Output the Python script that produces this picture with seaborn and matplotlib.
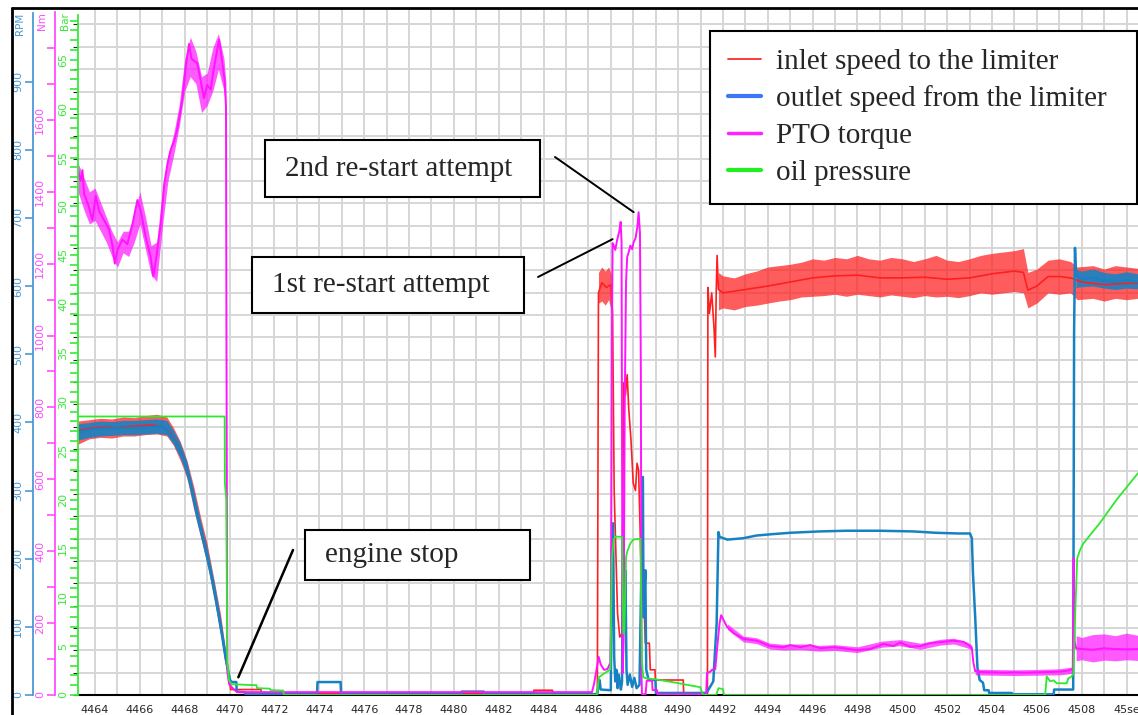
import numpy as np
import seaborn as sns
import matplotlib.pyplot as plt
from matplotlib.lines import Line2D
from matplotlib.patches import Rectangle
from matplotlib.ticker import MultipleLocator, FixedLocator, FuncFormatter

# --- data (time in s) ---
# inlet speed to the limiter [RPM]
red_t = [4463.24, 4463.6, 4464.0, 4464.5, 4465.0, 4465.5, 4466.0, 4466.5, 4467.0,
         4467.37, 4467.67, 4467.97, 4468.27, 4468.56, 4468.86, 4469.16, 4469.45, 4469.68, 4469.82, 4469.93, 4470.02,
         4470.05, 4471.4, 4471.42, 4483.55, 4483.57, 4484.4, 4484.42, 4486.4,
         4486.45, 4486.6, 4486.8, 4487.0, 4487.08, 4487.15, 4487.3, 4487.4, 4487.5, 4487.57,
         4487.65, 4487.73, 4487.8, 4487.9, 4488.0, 4488.1, 4488.17, 4488.24, 4488.3, 4488.39,
         4488.45, 4488.54, 4488.72, 4488.76, 4488.97, 4488.99, 4490.23, 4490.25, 4491.31,
         4491.33, 4491.4, 4491.5, 4491.6, 4491.66, 4491.7, 4491.74, 4491.8, 4492.0,
         4493, 4494, 4495, 4496, 4497, 4498, 4499, 4500, 4501, 4502, 4503, 4504, 4505,
         4505.4, 4505.6, 4506.0, 4506.5, 4507.0, 4507.5, 4508.0, 4509.0, 4510.0, 4510.51]
red_v = [388, 390, 392, 393, 392, 394, 395, 396, 394,
         384, 368, 346, 308, 263, 224, 180, 129, 85, 53, 34, 15,
         8, 8, 2, 2, 7, 7, 2, 2,
         590, 605, 598, 602, 560, 300, 120, 85, 90, 458,
         440, 470, 420, 374, 311, 300, 340, 330, 252, 129,
         170, 76, 76, 37, 37, 22, 22, 2, 2,
         598, 560, 590, 540, 496, 590, 645, 595, 590,
         595, 600, 606, 612, 615, 616, 612, 612, 613, 610, 612, 618, 622,
         620, 594, 600, 614, 614, 612, 606, 602, 604, 604]
# noise envelopes of the inlet speed
red_env1_t = [4463.24, 4463.75, 4464.25, 4464.75, 4465.25, 4465.75, 4466.25, 4466.75, 4467.2,
              4467.5, 4467.8, 4468.1, 4468.4, 4468.7, 4469.0, 4469.3, 4469.6, 4469.85]
red_env1_lo = [368, 376, 378, 377, 380, 380, 382, 383, 380, 366, 344, 318, 272, 232, 192, 144, 88, 38]
red_env1_hi = [402, 404, 406, 405, 408, 407, 410, 412, 408, 392, 372, 344, 306, 262, 222, 170, 118, 58]
red_env2_t = [4486.45, 4486.6, 4486.75, 4486.9, 4487.05]
red_env2_lo = [575, 578, 572, 580, 560]
red_env2_hi = [620, 628, 622, 628, 615]
red_env3_t = [4491.8, 4492.0, 4492.5, 4493.0, 4493.5, 4494.0, 4494.5, 4495.0, 4495.5, 4496.0,
              4496.5, 4497.0, 4497.5, 4498.0, 4498.5, 4499.0, 4499.5, 4500.0, 4500.5, 4501.0,
              4501.5, 4502.0, 4502.5, 4503.0, 4503.5, 4504.0, 4504.5, 4505.0, 4505.4, 4505.6,
              4506.0, 4506.5, 4507.0, 4507.5, 4507.8, 4508.5, 4509.0, 4509.5, 4510.0, 4510.51]
red_env3_lo = [565, 568, 565, 570, 572, 575, 578, 580, 584, 585, 586, 588, 585, 588, 586, 584, 587, 585, 583, 586,
               584, 585, 583, 586, 590, 588, 590, 592, 590, 568, 575, 590, 588, 590, 580, 582, 578, 582, 580, 582]
red_env3_hi = [620, 615, 612, 618, 622, 628, 630, 632, 635, 640, 638, 642, 640, 645, 640, 638, 642, 640, 636, 640,
               645, 638, 636, 640, 645, 648, 650, 652, 655, 620, 625, 638, 640, 636, 628, 630, 625, 630, 628, 626]

# outlet speed from the limiter [RPM]
blue_t = [4463.24, 4463.6, 4464.0, 4464.5, 4465.0, 4465.5, 4466.0, 4466.5, 4467.0,
          4467.37, 4467.67, 4467.97, 4468.27, 4468.56, 4468.86, 4469.16, 4469.45, 4469.68, 4469.82, 4469.93, 4470.02,
          4470.1, 4470.3, 4470.32, 4470.7, 4470.72, 4473.9, 4473.92, 4474.95, 4474.97,
          4480.33, 4480.35, 4481.34, 4481.36, 4486.4,
          4486.45, 4486.5, 4486.55, 4487.0, 4487.05, 4487.1, 4487.15, 4487.2, 4487.25, 4487.3,
          4487.35, 4487.45, 4487.5, 4487.55, 4487.6, 4487.65, 4487.7, 4487.75, 4487.85, 4487.95,
          4488.05, 4488.15, 4488.28, 4488.43, 4488.46, 4488.54, 4488.58, 4488.69, 4488.99, 4489.01,
          4491.27, 4491.57, 4491.72, 4491.8,
          4491.85, 4492.2, 4492.9, 4493.5, 4494.2, 4495.0, 4496.3, 4497.5, 4499.0, 4500.5,
          4501.5, 4502.5, 4503.02, 4503.1, 4503.15, 4503.25, 4503.35, 4503.45, 4503.6, 4503.65,
          4503.85, 4503.87, 4504.88, 4504.9, 4506.75, 4506.77, 4507.62, 4507.66, 4507.7, 4507.75,
          4508.0, 4508.5, 4509.0, 4509.5, 4510.0, 4510.51]
blue_v = [386, 388, 390, 391, 391, 392, 392, 393, 394,
          382, 366, 344, 306, 262, 222, 178, 128, 84, 55, 36, 22,
          19, 19, 5, 4, 1, 1, 19, 19, 1,
          1, 5, 5, 1, 1,
          15, 22, 8, 7, 208, 252, 56, 20, 37, 10,
          30, 8, 20, 252, 105, 183, 37, 15, 30, 12,
          25, 10, 15, 320, 114, 183, 37, 22, 22, 3,
          3, 20, 105, 239,
          232, 228, 230, 234, 236, 238, 240, 241, 241, 240,
          238, 237, 237, 230, 179, 114, 40, 22, 18, 7,
          7, 3, 3, 1, 1, 8, 8, 531, 656, 615,
          610, 612, 608, 606, 608, 606]
blue_env1_t = red_env1_t
blue_env1_lo = [374, 378, 380, 381, 382, 382, 383, 384, 382, 368, 348, 322, 278, 236, 196, 148, 92, 44]
blue_env1_hi = [398, 400, 402, 401, 403, 403, 404, 405, 403, 388, 370, 342, 300, 256, 216, 168, 112, 60]
blue_env2_t = [4507.75, 4508.0, 4508.5, 4509.0, 4509.5, 4510.0, 4510.51]
blue_env2_lo = [598, 599, 600, 597, 595, 597, 596]
blue_env2_hi = [624, 622, 625, 620, 618, 621, 618]

# PTO torque [Nm]
pink_t = [4463.24, 4463.36, 4463.44, 4463.51, 4463.73, 4463.88, 4464.03, 4464.18, 4464.4, 4464.62,
          4464.78, 4464.88, 4465.0, 4465.22, 4465.44, 4465.67, 4465.89, 4466.04, 4466.26, 4466.48,
          4466.6, 4466.75, 4466.85, 4466.93, 4467.08, 4467.23, 4467.37, 4467.52, 4467.67, 4467.9,
          4468.04, 4468.19, 4468.3, 4468.56, 4468.86, 4469.0, 4469.16, 4469.3, 4469.53, 4469.68,
          4469.78, 4469.84, 4469.86, 4469.9, 4469.98, 4470.2, 4470.35, 4486.16,
          4486.25, 4486.39, 4486.46, 4486.55, 4486.7, 4486.85, 4486.98, 4487.01, 4487.05, 4487.08,
          4487.13, 4487.2, 4487.28, 4487.38, 4487.44, 4487.48, 4487.5, 4487.53, 4487.57, 4487.62,
          4487.68, 4487.73, 4487.79, 4487.87, 4487.95, 4488.02, 4488.1, 4488.18, 4488.24, 4488.3,
          4488.34, 4488.37, 4488.39, 4488.55, 4488.6, 4488.84, 4488.86, 4489.06, 4489.08, 4491.25,
          4491.29, 4491.44, 4491.51, 4491.66, 4491.74, 4491.85, 4491.92,
          4492.18, 4492.48, 4492.92, 4493.52, 4494.11, 4494.71, 4495.0, 4495.45, 4495.89, 4496.34,
          4496.93, 4497.38, 4497.97, 4498.57, 4499.16, 4499.61, 4499.9, 4500.35, 4500.8, 4501.24,
          4501.69, 4502.28, 4502.73, 4502.95, 4503.1, 4503.17, 4503.25, 4503.5, 4504.0, 4504.5,
          4505.0, 4505.5, 4506.0, 4506.5, 4507.0, 4507.4, 4507.6, 4507.64, 4507.68, 4507.75,
          4508.0, 4508.5, 4509.0, 4509.5, 4510.0, 4510.51]
pink_v = [1460, 1430, 1460, 1394, 1357, 1321, 1388, 1346, 1321, 1296,
          1249, 1200, 1238, 1267, 1254, 1310, 1377, 1346, 1274, 1218,
          1164, 1224, 1274, 1310, 1419, 1478, 1516, 1539, 1575, 1660,
          1744, 1811, 1770, 1757, 1660, 1697, 1684, 1744, 1823, 1757,
          1708, 1636, 1000, 64, 30, 15, 8, 8,
          30, 80, 106, 85, 70, 72, 90, 300, 1000, 1257,
          1250, 1238, 1265, 1290, 1316, 1260, 700, 61, 150, 800,
          1150, 1218, 1230, 1250, 1240, 1260, 1270, 1300, 1343, 1285,
          900, 50, 2, 2, 40, 40, 14, 14, 2, 2,
          61, 65, 70, 72, 130, 200, 222,
          190, 172, 156, 151, 136, 133, 139, 133, 139, 130,
          133, 130, 125, 128, 142, 136, 146, 134, 136, 144,
          147, 151, 148, 139, 131, 90, 66, 64, 63, 62,
          63, 62, 63, 64, 65, 68, 72, 381, 150, 130,
          128, 126, 130, 128, 127, 128]
pink_env1_t = [4463.24, 4463.5, 4463.75, 4464.0, 4464.25, 4464.5, 4464.75, 4465.0, 4465.25, 4465.5,
               4465.75, 4466.0, 4466.25, 4466.5, 4466.75, 4467.0, 4467.25, 4467.5, 4467.75, 4468.0,
               4468.25, 4468.5, 4468.75, 4469.0, 4469.25, 4469.5, 4469.75, 4469.84]
pink_env1_lo = [1400, 1350, 1310, 1320, 1290, 1260, 1220, 1190, 1230, 1220,
                1260, 1310, 1240, 1170, 1150, 1300, 1430, 1500, 1580, 1680,
                1720, 1700, 1620, 1640, 1680, 1740, 1680, 1600]
pink_env1_hi = [1480, 1440, 1400, 1410, 1370, 1330, 1290, 1260, 1290, 1290,
                1340, 1400, 1330, 1250, 1260, 1400, 1500, 1560, 1640, 1770,
                1830, 1790, 1720, 1730, 1800, 1840, 1770, 1700]
pink_env2_t = [4492.2, 4492.9, 4493.5, 4494.1, 4494.7, 4495.5, 4496.3, 4497.0, 4498.0, 4499.1,
               4499.9, 4500.8, 4501.7, 4502.3, 4502.9, 4503.1]
pink_env2_lo = [182, 148, 143, 128, 125, 126, 122, 124, 118, 133, 137, 127, 139, 142, 131, 124]
pink_env2_hi = [198, 164, 159, 144, 141, 142, 138, 140, 134, 150, 154, 144, 155, 158, 147, 139]
pink_env3_t = [4503.25, 4504.0, 4505.0, 4506.0, 4507.0, 4507.6]
pink_env3_lo = [56, 55, 54, 55, 56, 60]
pink_env3_hi = [72, 71, 70, 71, 73, 78]
pink_env4_t = [4507.75, 4508.0, 4508.5, 4509.0, 4509.5, 4510.0, 4510.51]
pink_env4_lo = [95, 98, 92, 97, 95, 98, 96]
pink_env4_hi = [165, 160, 168, 170, 165, 172, 166]

# oil pressure [bar]
green_t = [4463.24, 4469.78, 4469.79, 4469.85, 4469.9, 4469.98, 4470.1, 4471.2, 4471.22, 4471.8,
           4471.82, 4472.4, 4472.42, 4486.39,
           4486.46, 4486.7, 4486.98, 4487.05, 4487.13, 4487.2, 4487.5, 4487.56, 4487.6, 4487.68,
           4487.72, 4487.87, 4488.0, 4488.32, 4488.39, 4488.45, 4488.61, 4489.0, 4489.8, 4490.5,
           4490.99, 4491.12, 4491.7, 4491.8, 4492.0, 4492.05, 4506.37,
           4506.44, 4506.59, 4506.74, 4506.89, 4507.33, 4507.4, 4507.55, 4507.63, 4507.72, 4507.8,
           4507.92, 4508.07, 4508.81, 4509.56, 4510.51]
green_v = [28.5, 28.5, 21.7, 20.0, 3.3, 1.5, 1.1, 1.0, 0.7, 0.65,
           0.5, 0.45, 0, 0,
           1.8, 2.2, 2.6, 14.1, 15.9, 16.2, 16.2, 6.3, 6.3, 14.1,
           14.6, 15.5, 15.9, 16.0, 3.3, 1.8, 1.7, 1.6, 1.3, 1.0,
           0.8, 0, 0, 0.7, 0.6, 0, 0,
           1.9, 1.4, 1.5, 1.2, 1.2, 1.7, 1.9, 2.2, 9.0, 14.0,
           14.8, 15.5, 17.6, 20.0, 22.7]

labels = ['inlet speed to the limiter', 'outlet speed from the limiter', 'PTO torque', 'oil pressure']

RED, BLUE, PINK, GREEN = '#ff1f1f', '#1682c4', '#ff14ff', '#2ee82e'

# --- figure geometry (pixels) ---
W, H = 1138, 715
L, R, B, T = 78, 1138, 695, 8


def fx(x):
    return x / W


def fy(y):
    return 1 - y / H


sns.set_style("white")
plt.rcParams['font.family'] = ['DejaVu Sans']

fig = plt.figure(figsize=(W / 100, H / 100), dpi=100)
fig.patch.set_facecolor('white')
ax = fig.add_axes([fx(L), fy(B), (R - L) / W, (B - T) / H])

# base axes only carries the grid and the time axis
ax.set_xlim(4463.24, 4510.51)
ax.set_ylim(0, (B - T) / 22.35)
ax.xaxis.set_major_locator(MultipleLocator(1))
ax.yaxis.set_major_locator(MultipleLocator(1))


def sec_label(v, pos):
    s = int(round(v))
    if s % 2:
        return ''
    return '45se' if s == 4510 else str(s)


ax.xaxis.set_major_formatter(FuncFormatter(sec_label))
ax.grid(True, color='#d6d6d6', lw=1.4)
ax.tick_params(axis='x', direction='out', length=5, width=1.2, color='black', labelsize=8, pad=2)
ax.tick_params(axis='y', left=False, labelleft=False)
for s in ['top', 'right', 'left']:
    ax.spines[s].set_visible(False)
ax.spines['bottom'].set_color('black')
ax.spines['bottom'].set_linewidth(1.5)

ax_rpm = ax.twinx()
ax_nm = ax.twinx()
ax_bar = ax.twinx()

scales = [
    (ax_rpm, 1008, -44.7, '#4a9ad4', range(0, 1000, 100), lambda v: str(int(v)), 1000),
    (ax_nm, 1911, -23.0, '#ff4dff', range(0, 1900, 100),
     lambda v: str(int(v)) if v % 200 == 0 and v <= 1600 else '', 1900),
    (ax_bar, 70.3, 0.0, '#3ae83a', range(0, 70, 1),
     lambda v: str(int(v)) if v % 5 == 0 and v <= 65 else '', 69.6),
]
for a, top, off, col, ticks, fmt, bound in scales:
    a.set_ylim(0, top)
    a.yaxis.set_ticks_position('left')
    a.yaxis.set_label_position('left')
    for s in ['top', 'right', 'bottom']:
        a.spines[s].set_visible(False)
    a.spines['left'].set_visible(True)
    a.spines['left'].set_position(('axes', off / (R - L)))
    a.spines['left'].set_color(col)
    a.spines['left'].set_linewidth(1.3)
    a.spines['left'].set_bounds(0, bound)
    a.yaxis.set_major_locator(FixedLocator(list(ticks)))
    a.yaxis.set_major_formatter(FuncFormatter(lambda v, p, f=fmt: f(v)))
    a.tick_params(axis='y', direction='out', length=6, width=1.2, color=col, labelcolor=col,
                  labelsize=8, labelrotation=90, pad=1.2)
    plt.setp(a.get_yticklabels(), va='center')
    a.grid(False)

# --- series ---
for t, lo, hi in [(red_env1_t, red_env1_lo, red_env1_hi), (red_env2_t, red_env2_lo, red_env2_hi),
                  (red_env3_t, red_env3_lo, red_env3_hi)]:
    ax_rpm.fill_between(t, lo, hi, color=RED, alpha=0.72, lw=0)
sns.lineplot(x=red_t, y=red_v, ax=ax_rpm, color=RED, lw=1.2, estimator=None, sort=False)

for t, lo, hi in [(blue_env1_t, blue_env1_lo, blue_env1_hi), (blue_env2_t, blue_env2_lo, blue_env2_hi)]:
    ax_rpm.fill_between(t, lo, hi, color=BLUE, alpha=0.9, lw=0)
sns.lineplot(x=blue_t, y=blue_v, ax=ax_rpm, color=BLUE, lw=1.8, estimator=None, sort=False)

for t, lo, hi in [(pink_env1_t, pink_env1_lo, pink_env1_hi), (pink_env2_t, pink_env2_lo, pink_env2_hi),
                  (pink_env3_t, pink_env3_lo, pink_env3_hi), (pink_env4_t, pink_env4_lo, pink_env4_hi)]:
    ax_nm.fill_between(t, lo, hi, color=PINK, alpha=0.7, lw=0)
sns.lineplot(x=pink_t, y=pink_v, ax=ax_nm, color=PINK, lw=1.4, estimator=None, sort=False)

sns.lineplot(x=green_t, y=green_v, ax=ax_bar, color=GREEN, lw=1.3, estimator=None, sort=False)

for a in (ax_rpm, ax_nm, ax_bar):
    a.set_xlabel('')
    a.set_ylabel('')
    a.set_xlim(4463.24, 4510.51)

# unit labels at the top of each scale
for x, y, txt, col in [(20, 24, 'RPM', '#4a9ad4'), (42, 21, 'Nm', '#ff4dff'), (65, 21, 'Bar', '#3ae83a')]:
    fig.text(fx(x), fy(y), txt, color=col, fontsize=7.5, rotation=90, ha='center', va='center')

# outer frame of the recorder window
fig.add_artist(Line2D([fx(12), fx(12)], [fy(8), 0], color='black', lw=2, transform=fig.transFigure))
fig.add_artist(Line2D([fx(12), 1], [fy(8), fy(8)], color='black', lw=2, transform=fig.transFigure))

# legend
handles = [Line2D([], [], color='#ff2a2a', lw=1.3), Line2D([], [], color='#3a78f5', lw=3),
           Line2D([], [], color='#ff22ff', lw=2.5), Line2D([], [], color='#22ee22', lw=3)]
leg = fig.legend(handles, labels, loc='upper left',
                 bbox_to_anchor=(fx(710), fy(205), (1137 - 710) / W, (205 - 31) / H), mode='expand',
                 prop={'family': 'Liberation Serif', 'size': 21}, frameon=True, fancybox=False,
                 edgecolor='black', framealpha=1, borderpad=0.6, labelspacing=0.36,
                 handlelength=1.15, handletextpad=0.5, borderaxespad=0)
leg.get_frame().set_linewidth(1.5)

# annotation boxes
boxes = [(265, 140, 540, 197, 285, '2nd re-start attempt'),
         (252, 257, 524, 313, 272, '1st re-start attempt'),
         (305, 530, 530, 580, 325, 'engine stop')]
for x0, y0, x1, y1, tx, txt in boxes:
    fig.add_artist(Rectangle((fx(x0), fy(y1)), (x1 - x0) / W, (y1 - y0) / H, transform=fig.transFigure,
                             facecolor='white', edgecolor='black', lw=1.5, zorder=4))
    fig.text(fx(tx), fy((y0 + y1) / 2), txt, family='Liberation Serif', fontsize=21,
             ha='left', va='center', zorder=5)

# pointer lines to the events
ax_bar.annotate('', xy=(4488.02, 1343), xycoords=ax_nm.transData, xytext=(555, H - 157),
                textcoords='figure pixels', arrowprops=dict(arrowstyle='-', color='black', lw=1.4,
                                                            shrinkA=0, shrinkB=0))
ax_bar.annotate('', xy=(4487.08, 1268), xycoords=ax_nm.transData, xytext=(538, H - 277),
                textcoords='figure pixels', arrowprops=dict(arrowstyle='-', color='black', lw=1.4,
                                                            shrinkA=0, shrinkB=0))
ax_bar.annotate('', xy=(4470.39, 26), xycoords=ax_rpm.transData, xytext=(293, H - 550),
                textcoords='figure pixels', arrowprops=dict(arrowstyle='-', color='black', lw=1.8,
                                                            shrinkA=0, shrinkB=0))

fig.savefig('out.png', dpi=100, facecolor='white')
